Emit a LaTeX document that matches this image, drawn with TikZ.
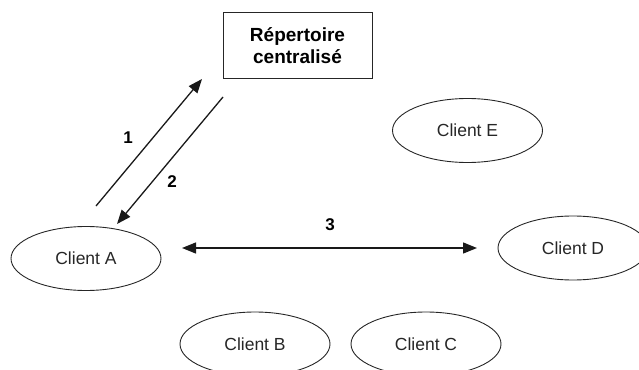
\documentclass[tikz,border=0pt]{standalone}
\usepackage{fontspec}
\setmainfont{Liberation Sans}
\usetikzlibrary{shapes.geometric,arrows.meta}
\tikzset{
  client/.style={draw=black!85, line width=0.9pt, ellipse, minimum width=150pt, minimum height=64pt, inner sep=0pt, font=\fontsize{17.5}{20}\selectfont, text=black!85},
  repbox/.style={draw=black!85, line width=1pt, rectangle, minimum width=149pt, minimum height=65pt, inner sep=0pt, align=center, font=\fontsize{19}{22}\selectfont\bfseries},
  msg/.style={line width=1.3pt, draw=black!90, -{Triangle[length=14pt,width=11pt]}},
  msgboth/.style={line width=1.3pt, draw=black!90, {Triangle[length=14pt,width=11pt]}-{Triangle[length=14pt,width=11pt]}},
  num/.style={font=\fontsize{17}{20}\selectfont\bfseries, inner sep=0pt}
}
\begin{document}
\begin{tikzpicture}[x=1pt,y=-1pt]
\useasboundingbox (0,0) rectangle (639,369);
\clip (0,0) rectangle (639,369);
\node[repbox] (rep) at (297.5,45.5) {Répertoire\\centralisé};
\node[client] (a) at (86,258.5) {Client A};
\node[client] (e) at (467.5,130.5) {Client E};
\node[client] (d) at (573,248) {Client D};
\node[client] (b) at (255,344) {Client B};
\node[client] (c) at (426,344) {Client C};
\coordinate (a1) at (96,206);
\coordinate (r1) at (202,79);
\coordinate (r2) at (223,97);
\coordinate (a2) at (117,224);
\coordinate (a3) at (182,248);
\coordinate (d3) at (477,248);
\draw[msg] (a1) -- (r1);
\draw[msg] (r2) -- (a2);
\draw[msgboth] (a3) -- (d3);
\node[num] (n1) at (128,138) {1};
\node[num] (n2) at (172,182) {2};
\node[num] (n3) at (330,225) {3};
\end{tikzpicture}
\end{document}
